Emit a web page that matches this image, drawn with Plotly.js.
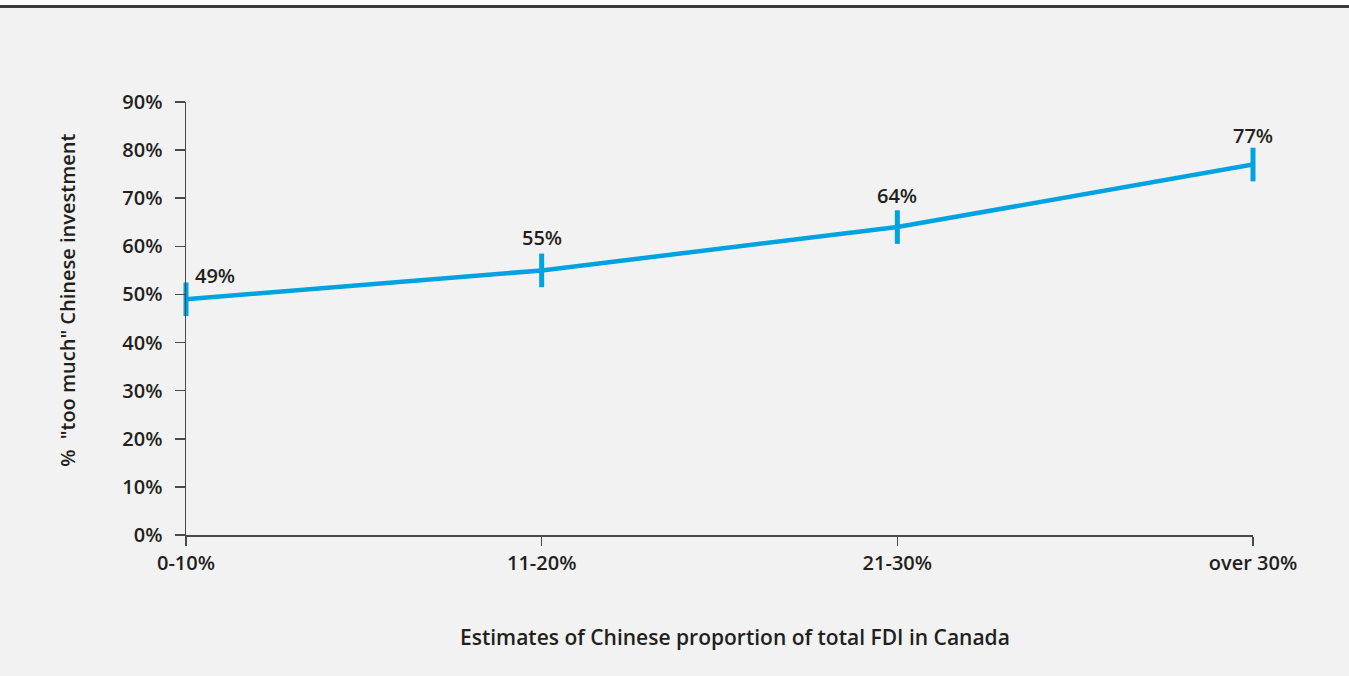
<!DOCTYPE html>
<html>
<head>
<meta charset="utf-8">
<script src="https://cdn.plot.ly/plotly-3.0.1.min.js"></script>
<style>
  html, body { margin: 0; padding: 0; background: #ffffff; }
  #gap { height: 5px; background: #ffffff; }
  #rule { height: 3px; background: #3b3b3b; }
  #chart { width: 1349px; height: 668px; }
</style>
</head>
<body>
<div id="gap"></div>
<div id="rule"></div>
<div id="chart"></div>
<script>
// Share answering "too much" Chinese investment, by estimated Chinese share of FDI
const categories = ['0-10%', '11-20%', '21-30%', 'over 30%'];
const tooMuch = [49, 55, 64, 77];
const yTicks = [0, 10, 20, 30, 40, 50, 60, 70, 80, 90];

const ink = '#231f20';
const blue = '#00a3e0';
const fontFamily = '"Open Sans", "Noto Sans", sans-serif';
const semi = 600;

const trace = {
  type: 'scatter',
  mode: 'lines+markers',
  x: categories,
  y: tooMuch,
  line: { color: blue, width: 4.5 },
  marker: { symbol: 'line-ns', size: 24, line: { color: blue, width: 5 } },
  hoverinfo: 'skip',
  cliponaxis: false
};

// Value labels above each point; the first one sits to the right of the axis
const labelShift = [[29, 24], [0, 33], [0, 32], [0, 29]];
const valueLabels = categories.map((c, i) => ({
  x: c, y: tooMuch[i], xref: 'x', yref: 'y',
  text: tooMuch[i] + '%',
  showarrow: false,
  xshift: labelShift[i][0], yshift: labelShift[i][1],
  font: { family: fontFamily, size: 20, color: ink, weight: semi }
}));

const layout = {
  width: 1349, height: 668,
  paper_bgcolor: '#f2f2f2', plot_bgcolor: '#f2f2f2',
  margin: { l: 186, r: 96, t: 94, b: 141 },
  showlegend: false,
  font: { family: fontFamily, color: ink },
  xaxis: {
    type: 'category',
    range: [0, 3],
    showgrid: false, zeroline: false,
    showline: true, linecolor: '#4a4a4a', linewidth: 1.5,
    ticks: 'outside', ticklen: 9, tickwidth: 1.5, tickcolor: '#4a4a4a',
    ticklabelstandoff: 0,
    tickfont: { family: fontFamily, size: 20, color: ink, weight: semi },
    automargin: false
  },
  yaxis: {
    range: [0, 90],
    tickvals: yTicks,
    ticktext: yTicks.map(v => v + '%'),
    showgrid: false, zeroline: false,
    showline: true, linecolor: '#4a4a4a', linewidth: 1.5,
    ticks: 'outside', ticklen: 10, tickwidth: 1.5, tickcolor: '#4a4a4a',
    ticklabelstandoff: 8,
    tickfont: { family: fontFamily, size: 20, color: ink, weight: semi },
    automargin: false
  },
  annotations: valueLabels.concat([
    {
      xref: 'paper', yref: 'paper', x: 0.5145, y: -0.235,
      xanchor: 'center', yanchor: 'middle',
      text: 'Estimates of Chinese proportion of total FDI in Canada',
      showarrow: false,
      font: { family: fontFamily, size: 21, color: ink, weight: semi }
    },
    {
      xref: 'paper', yref: 'paper', x: -0.1106, y: 0.543,
      xanchor: 'center', yanchor: 'middle',
      textangle: -90,
      text: '%  "too much" Chinese investment',
      showarrow: false,
      font: { family: fontFamily, size: 20, color: ink, weight: semi }
    }
  ])
};

Plotly.newPlot('chart', [trace], layout, { displayModeBar: false, staticPlot: true });
</script>
</body>
</html>
